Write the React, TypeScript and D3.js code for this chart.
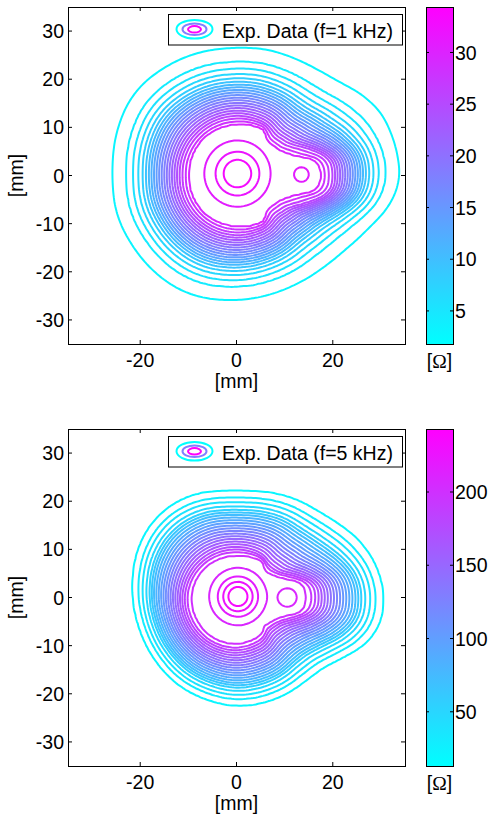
import React, { useMemo } from "react";
import * as d3 from "d3";

// ---------- shared axis data ----------
const AXIS_LIMITS = [-35, 35];
const X_TICKS = [-20, 0, 20];
const Y_TICKS = [-30, -20, -10, 0, 10, 20, 30];
const AXIS_LABEL = "[mm]";
const UNIT_LABEL = "Ω";

// ---------- panel A : f = 1 kHz ----------
const A_LEGEND = "Exp. Data (f=1 kHz)";
const A_CLIM = [1.8, 34.4];
const A_CTICKS = [5, 10, 15, 20, 25, 30];
const A_NLEVELS = 25;
// contour "rings": radius [mm] vs. polar angle [deg]
// ring 0 = plateau edge (C / peanut contour), ring 1 = inner side of the dense band, ring 2 = outermost contour
const A_RING_T = [0, 0.12, 1];
const A_INNER_DEG = [0, 7, 12, 15, 19, 26, 33, 45, 50, 60, 74, 90, 120, 150, 180, 210, 240, 270, 286, 300, 310, 315, 327, 334, 341, 345, 348, 353, 360];
const A_INNER_R = [17.6, 17.3, 16.3, 14.5, 12.7, 11.1, 10.1, 9.6, 9.8, 11.1, 10.9, 10.6, 10.4, 10.1, 9.9, 10.1, 10.4, 10.6, 10.9, 11.1, 9.8, 9.6, 10.1, 11.1, 12.7, 14.5, 16.3, 17.3, 17.6];
const A_MID_DEG = [0, 10, 20, 30, 45, 60, 90, 120, 150, 180, 210, 240, 270, 300, 315, 330, 340, 350, 360];
const A_MID_R = [20.0, 19.8, 16.0, 12.8, 11.6, 12.4, 12.4, 12.2, 12.0, 11.8, 12.0, 12.2, 12.4, 12.4, 11.6, 12.8, 16.0, 19.8, 20.0];
const A_OUTER_DEG = [0, 7, 18, 29, 37, 45, 61, 77, 90, 123, 141, 160, 180, 197, 214, 231, 247, 270, 292, 306, 319, 332, 344, 354, 360];
const A_OUTER_R = [34, 33.7, 33.2, 32.2, 29.7, 28.2, 27.1, 26.9, 26.4, 26.9, 27.3, 26.4, 25.6, 26.1, 26.0, 26.3, 26.5, 25.8, 25.6, 25.9, 26.5, 28.1, 30.8, 33.9, 34];
const A_RING_SMOOTH = [2, 5, 9];
// value across the wall (0 = plateau edge, 1 = outermost contour)
const A_WALL_T = [-0.08, 0, 0.038, 0.082, 0.12, 0.522, 0.56, 0.604, 0.66, 0.73, 0.818, 1.0, 1.2, 5];
const A_WALL_V = [30.0, 29.39, 28.13, 26.9, 25.63, 10.58, 9.32, 8.07, 6.81, 5.56, 4.3, 3.05, 1.8, 1.8];
// local maxima on the plateau
const A_PEAK_X = [0.2, 13.5];
const A_PEAK_Y = [0.4, 0.2];
const A_PEAK_AMP = [4.4, 1.0];
const A_PEAK_SIGMA = [3.5, 1.6];

// ---------- panel B : f = 5 kHz ----------
const B_LEGEND = "Exp. Data (f=5 kHz)";
const B_CLIM = [13, 243];
const B_CTICKS = [50, 100, 150, 200];
const B_NLEVELS = 26;
const B_RING_T = [0, 0.12, 1];
const B_INNER_DEG = [0, 8, 14, 20, 28, 40, 47, 55, 70, 90, 120, 150, 180, 210, 240, 270, 295, 305, 315, 325, 333, 340, 346, 352, 360];
const B_INNER_R = [14.4, 14.2, 13.3, 11.0, 9.3, 8.0, 8.4, 9.2, 8.9, 8.6, 8.8, 9.1, 9.4, 9.5, 9.7, 9.7, 9.4, 9.2, 8.2, 8.8, 9.6, 11.0, 13.3, 14.2, 14.4];
const B_MID_DEG = [0, 10, 20, 30, 45, 60, 90, 120, 150, 180, 210, 240, 270, 300, 315, 330, 340, 350, 360];
const B_MID_R = [16.8, 16.5, 13.2, 10.4, 9.6, 10.2, 10.2, 10.4, 10.7, 11.0, 11.1, 11.2, 11.2, 10.9, 9.8, 10.6, 13.2, 16.5, 16.8];
const B_OUTER_DEG = [0, 10, 21, 30, 42, 57, 74, 90, 117, 135, 151, 171, 180, 198, 219, 237, 253, 270, 295, 315, 327, 337, 345, 355, 360];
const B_OUTER_R = [30.6, 30.1, 28.7, 27.2, 24.9, 23.9, 22.7, 21.9, 23.3, 23.5, 22.9, 21.8, 21.5, 21.1, 21.3, 21.8, 22.0, 22.5, 22.5, 22.4, 23.8, 27.6, 29.9, 30.7, 30.6];
const B_RING_SMOOTH = [2, 5, 9];
const B_WALL_T = [-0.08, 0, 0.06, 0.632, 0.669, 0.707, 0.759, 0.827, 0.895, 1.0, 1.2, 5];
const B_WALL_V = [205, 200.4, 191.9, 72.6, 64.1, 55.6, 47.1, 38.5, 30.0, 21.5, 13, 13];
const B_PEAK_X = [0.3, 10.6];
const B_PEAK_Y = [0.2, 0.0];
const B_PEAK_AMP = [38, 8];
const B_PEAK_SIGMA = [2.8, 1.6];

const PANELS = [
  {
    id: "a", legend: A_LEGEND, clim: A_CLIM, cticks: A_CTICKS, nLevels: A_NLEVELS,
    ringT: A_RING_T,
    rings: [[A_INNER_DEG, A_INNER_R], [A_MID_DEG, A_MID_R], [A_OUTER_DEG, A_OUTER_R]],
    smooth: A_RING_SMOOTH,
    wallT: A_WALL_T, wallV: A_WALL_V,
    peakX: A_PEAK_X, peakY: A_PEAK_Y, peakAmp: A_PEAK_AMP, peakSigma: A_PEAK_SIGMA,
  },
  {
    id: "b", legend: B_LEGEND, clim: B_CLIM, cticks: B_CTICKS, nLevels: B_NLEVELS,
    ringT: B_RING_T,
    rings: [[B_INNER_DEG, B_INNER_R], [B_MID_DEG, B_MID_R], [B_OUTER_DEG, B_OUTER_R]],
    smooth: B_RING_SMOOTH,
    wallT: B_WALL_T, wallV: B_WALL_V,
    peakX: B_PEAK_X, peakY: B_PEAK_Y, peakAmp: B_PEAK_AMP, peakSigma: B_PEAK_SIGMA,
  },
];

const FONT = "'Liberation Sans', Arial, Helvetica, sans-serif";
const FS = 19.5;

function coolColor(t: number) {
  const c = Math.max(0, Math.min(1, t));
  return d3.rgb(255 * c, 255 * (1 - c), 255).formatHex();
}

// polar radius lookup with a circular moving-average smoothing
function ringLookup(deg: number[], rad: number[], half: number) {
  const f = d3.scaleLinear().domain(deg).range(rad);
  const raw = d3.range(360).map((a) => f(a));
  const sm = raw.map((_, a) => {
    let s = 0, c = 0;
    for (let k = -half; k <= half; k++) {
      s += raw[(a + k + 360) % 360];
      c++;
    }
    return s / c;
  });
  return (a: number) => {
    const i = Math.floor(a) % 360;
    const fr = a - Math.floor(a);
    return sm[i] * (1 - fr) + sm[(i + 1) % 360] * fr;
  };
}

function buildField(cfg: any) {
  const step = 0.5;
  const x0 = AXIS_LIMITS[0];
  const n = Math.round((AXIS_LIMITS[1] - AXIS_LIMITS[0]) / step) + 1;
  const rings = cfg.rings.map((rg: any, i: number) => ringLookup(rg[0], rg[1], cfg.smooth[i]));
  const T = cfg.ringT;
  const wall = d3.scaleLinear().domain(cfg.wallT).range(cfg.wallV).clamp(true);
  const values: number[] = new Array(n * n);
  for (let j = 0; j < n; j++) {
    const y = x0 + j * step;
    for (let i = 0; i < n; i++) {
      const x = x0 + i * step;
      const r = Math.hypot(x, y);
      let deg = (Math.atan2(y, x) * 180) / Math.PI;
      if (deg < 0) deg += 360;
      const Rs = rings.map((g: any) => g(deg));
      let k = 0;
      while (k < Rs.length - 2 && r > Rs[k + 1]) k++;
      const t = T[k] + ((r - Rs[k]) / (Rs[k + 1] - Rs[k])) * (T[k + 1] - T[k]);
      let v = wall(t);
      for (let p = 0; p < cfg.peakX.length; p++) {
        const dx = x - cfg.peakX[p];
        const dy = y - cfg.peakY[p];
        const s = cfg.peakSigma[p];
        v += cfg.peakAmp[p] * Math.exp(-(dx * dx + dy * dy) / (2 * s * s));
      }
      values[j * n + i] = v;
    }
  }
  return { values, n, step, x0 };
}

function Panel({ cfg, top }: { cfg: any; top: number }) {
  const L = 68, R = 405, H = 337;
  const B = top + H;
  const xS = d3.scaleLinear().domain(AXIS_LIMITS).range([L, R]);
  const yS = d3.scaleLinear().domain(AXIS_LIMITS).range([B, top]);
  const cbL = 426, cbW = 27;
  const cS = d3.scaleLinear().domain(cfg.clim).range([B, top]);
  const tick = 4;

  const contours = useMemo(() => {
    const { values, n, step, x0 } = buildField(cfg);
    const [c0, c1] = cfg.clim;
    const levels = d3.range(cfg.nLevels).map((k) => c0 + ((k + 1) * (c1 - c0)) / (cfg.nLevels + 1));
    const gen = d3.contours().size([n, n]).thresholds(levels);
    const res = gen(values);
    const toPx = (p: number[]) =>
      `${xS(x0 + (p[0] - 0.5) * step).toFixed(2)},${yS(x0 + (p[1] - 0.5) * step).toFixed(2)}`;
    return res.map((c: any) => ({
      value: c.value,
      color: coolColor((c.value - c0) / (c1 - c0)),
      d: c.coordinates
        .map((poly: any) => poly.map((ring: any) => "M" + ring.map(toPx).join("L") + "Z").join(""))
        .join(""),
    }));
  }, [cfg, top]);

  const gradId = `cool-${cfg.id}`;
  const legTop = top + 7;
  const legH = 30.5;
  const iconCx = 194.5, iconCy = legTop + 15.3;

  return (
    <g>
      <defs>
        <linearGradient id={gradId} x1="0" y1="1" x2="0" y2="0">
          <stop offset="0%" stopColor={coolColor(0)} />
          <stop offset="100%" stopColor={coolColor(1)} />
        </linearGradient>
      </defs>
      <rect x={L} y={top} width={R - L} height={H} fill="#fff" />
      {contours.map((c: any, i: number) => (
        <path key={i} d={c.d} fill="none" stroke={c.color} strokeWidth={2} strokeLinejoin="round" />
      ))}
      <rect x={L + 0.5} y={top + 0.5} width={R - L} height={H} fill="none" stroke="#000" strokeWidth={1} />
      {X_TICKS.map((t) => (
        <g key={"x" + t}>
          <line x1={xS(t)} x2={xS(t)} y1={B} y2={B - tick} stroke="#000" />
          <line x1={xS(t)} x2={xS(t)} y1={top} y2={top + tick} stroke="#000" />
          <text x={xS(t)} y={B + 23} fontSize={FS} textAnchor="middle" fontFamily={FONT}>
            {t}
          </text>
        </g>
      ))}
      {Y_TICKS.map((t) => (
        <g key={"y" + t}>
          <line x1={L} x2={L + tick} y1={yS(t)} y2={yS(t)} stroke="#000" />
          <line x1={R} x2={R - tick} y1={yS(t)} y2={yS(t)} stroke="#000" />
          <text x={L - 4} y={yS(t)} dy="0.36em" fontSize={FS} textAnchor="end" fontFamily={FONT}>
            {t}
          </text>
        </g>
      ))}
      <text x={(L + R) / 2} y={B + 44} fontSize={FS} textAnchor="middle" fontFamily={FONT}>
        {AXIS_LABEL}
      </text>
      <text
        transform={`translate(23,${(top + B) / 2}) rotate(-90)`}
        fontSize={FS}
        textAnchor="middle"
        fontFamily={FONT}
      >
        {AXIS_LABEL}
      </text>
      {/* legend */}
      <rect x={168.5} y={legTop + 0.5} width={234} height={legH} fill="#fff" stroke="#000" strokeWidth={1} />
      <ellipse cx={iconCx} cy={iconCy} rx={18} ry={9.3} fill="none" stroke={coolColor(0)} strokeWidth={2} />
      <ellipse cx={iconCx} cy={iconCy} rx={12} ry={5.8} fill="none" stroke={coolColor(0.5)} strokeWidth={2} />
      <ellipse cx={iconCx} cy={iconCy} rx={6.5} ry={3.2} fill="none" stroke={coolColor(1)} strokeWidth={2} />
      <text
        x={222}
        y={legTop + 23.5}
        fontSize={20}
        fontFamily={FONT}
        textLength={171}
        lengthAdjust="spacingAndGlyphs"
      >
        {cfg.legend}
      </text>
      {/* colorbar */}
      <rect x={cbL} y={top} width={cbW} height={H} fill={`url(#${gradId})`} />
      <rect x={cbL + 0.5} y={top + 0.5} width={cbW} height={H} fill="none" stroke="#000" strokeWidth={1} />
      {cfg.cticks.map((t: number) => (
        <g key={"c" + t}>
          <line x1={cbL} x2={cbL + 3} y1={cS(t)} y2={cS(t)} stroke="#000" />
          <line x1={cbL + cbW} x2={cbL + cbW - 3} y1={cS(t)} y2={cS(t)} stroke="#000" />
          <text x={cbL + cbW + 2} y={cS(t)} dy="0.36em" fontSize={FS} fontFamily={FONT}>
            {t}
          </text>
        </g>
      ))}
      <text x={cbL + cbW / 2} y={B + 24} fontSize={FS} textAnchor="middle" fontFamily={FONT}>
        [<tspan fontFamily="'Liberation Serif', 'Times New Roman', serif">{UNIT_LABEL}</tspan>]
      </text>
    </g>
  );
}

export default function App() {
  return (
    <svg
      width={490}
      height={819}
      style={{ position: "absolute", left: 0, top: 0, display: "block", background: "#fff" }}
    >
      <rect x={0} y={0} width={490} height={819} fill="#fff" />
      <Panel cfg={PANELS[0]} top={7} />
      <Panel cfg={PANELS[1]} top={429} />
    </svg>
  );
}
